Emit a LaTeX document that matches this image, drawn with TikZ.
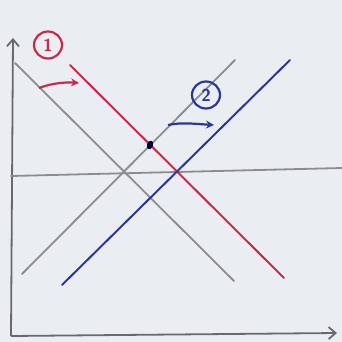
\documentclass[tikz,border=0pt]{standalone}
\usetikzlibrary{arrows.meta,shapes.geometric}
\definecolor{bg}{RGB}{234,238,243}
\definecolor{pencil}{RGB}{140,140,140}
\definecolor{axisc}{RGB}{105,105,105}
\definecolor{redpen}{RGB}{205,40,75}
\definecolor{bluepen}{RGB}{45,55,150}
\begin{document}
\begin{tikzpicture}[x=1pt,y=-1pt,
  axisline/.style={draw=axisc,line width=1.8pt,-{Straight Barb[length=7pt,width=12pt]}},
  grayline/.style={draw=pencil,line width=1.8pt,line cap=round},
  redline/.style={draw=redpen,line width=2pt,line cap=round},
  blueline/.style={draw=bluepen,line width=2pt,line cap=round},
  shiftarrow/.style={line width=2.2pt,-{Stealth[length=8pt,width=8pt]}},
  numlabel/.style={ellipse,draw,line width=2.2pt,inner sep=0pt,minimum width=28pt,minimum height=27pt,font=\sffamily\bfseries\LARGE}]
\fill[bg] (0,0) rectangle (342,342);
\useasboundingbox (0,0) rectangle (342,342);
% axes
\coordinate (O) at (11,336);
\coordinate (ytop) at (13,38);
\coordinate (xend) at (337,333);
\draw[axisline] (O) -- (ytop);
\draw[axisline] (O) -- (xend);
% horizontal price line
\coordinate (hl) at (11,176);
\coordinate (hr) at (342,168);
\draw[grayline] (hl) -- (hr);
% original demand (gray)
\coordinate (d0a) at (15,63);
\coordinate (d0b) at (234,281);
\draw[grayline] (d0a) -- (d0b);
% original supply (gray)
\coordinate (s0a) at (22,274);
\coordinate (s0b) at (235,60);
\draw[grayline] (s0a) -- (s0b);
% shifted demand (red)
\coordinate (d1a) at (70,65);
\coordinate (d1b) at (284,278);
\draw[redline] (d1a) -- (d1b);
% shifted supply (blue)
\coordinate (s1a) at (62,285);
\coordinate (s1b) at (290,60);
\draw[blueline] (s1a) -- (s1b);
% shift arrows
\coordinate (ra0) at (39,88);
\coordinate (ra1) at (79,83);
\draw[shiftarrow,redpen] (ra0) .. controls (52,83) and (66,82) .. (ra1);
\coordinate (ba0) at (168,125);
\coordinate (ba1) at (214,125);
\draw[shiftarrow,bluepen] (ba0) .. controls (182,122) and (196,124) .. (ba1);
% labels
\node[numlabel,draw=redpen,text=redpen] (n1) at (48,45) {1};
\node[numlabel,draw=bluepen,text=bluepen] (n2) at (206,95) {2};
% point
\node[fill=black!80!blue,ellipse,minimum width=6pt,minimum height=9pt,inner sep=0pt,rotate=-20] (pt) at (150,145) {};
\end{tikzpicture}
\end{document}
